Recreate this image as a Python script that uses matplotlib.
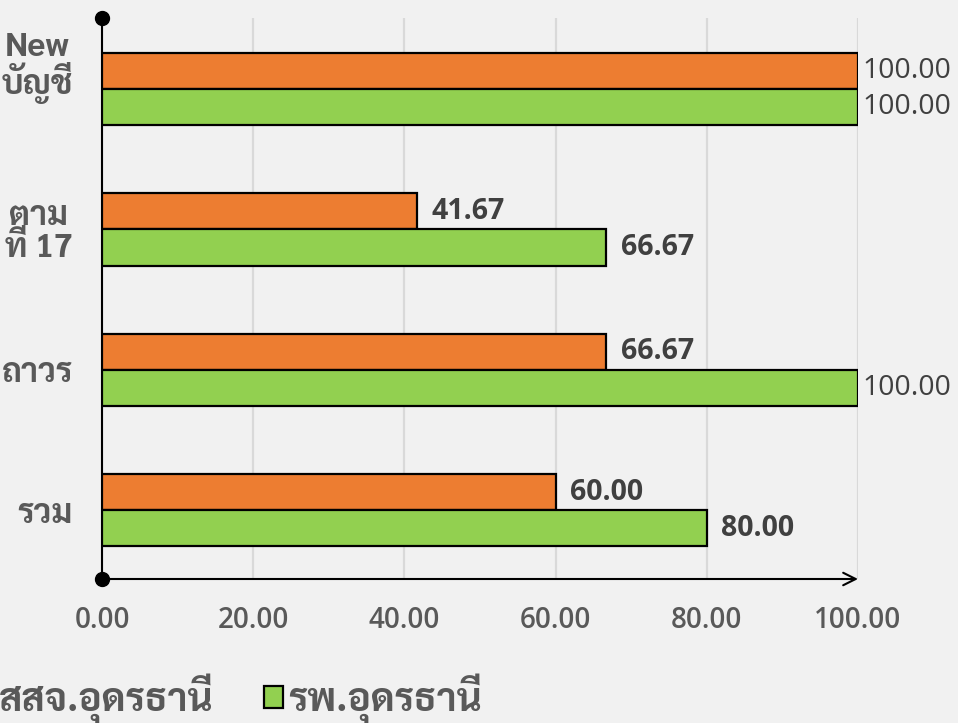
import numpy as np
import matplotlib
matplotlib.use("Agg")
import matplotlib.pyplot as plt

# ตัวเลขใช้ Open Sans, ข้อความไทยใช้ Sarabun
plt.rcParams['font.family'] = ['Open Sans', 'Sarabun', 'DejaVu Sans']
thai_font = ['Sarabun', 'DejaVu Sans']

# ข้อมูล
categories = ["New\nบัญชี", "ตาม\nที่ 17", "ถาวร", "รวม"]
label_shift = [-0.185, 0.0, 0.0, 0.0]
series_names = ["สสจ.อุดรธานี", "รพ.อุดรธานี"]
sso_values = [100.00, 41.67, 66.67, 60.00]
hosp_values = [100.00, 66.67, 100.00, 80.00]
xticks = [0, 20, 40, 60, 80, 100]

orange = '#ED7D31'
green = '#92D050'
text_gray = '#595959'

fig = plt.figure(figsize=(9.58, 7.23), dpi=100, facecolor='#f1f1f1')
ax = fig.add_axes([102 / 958, 1 - 579 / 723, 756 / 958, 561 / 723])
ax.set_facecolor('none')

y = np.arange(len(categories))
h = 0.257
b1 = ax.barh(y - h / 2, sso_values, height=h, color=orange, edgecolor='black',
             linewidth=1.6, label=series_names[0], zorder=3)
b2 = ax.barh(y + h / 2, hosp_values, height=h, color=green, edgecolor='black',
             linewidth=1.6, label=series_names[1], zorder=3)

# ป้ายค่า
for bars, vals in [(b1, sso_values), (b2, hosp_values)]:
    for rect, v in zip(bars, vals):
        full = v >= 100
        ax.annotate(f"{v:.2f}", (v, rect.get_y() + rect.get_height() / 2),
                    xytext=(3 if full else 10.5, 0), textcoords='offset points',
                    ha='left', va='center', fontsize=20.5,
                    fontweight='normal' if full else 'bold',
                    color='#404040', annotation_clip=False)

ax.set_xlim(0, 100)
ax.set_ylim(3.49, -0.506)
ax.set_xticks(xticks, labels=[f"{t:.2f}" for t in xticks])
ax.set_yticks(y + np.array(label_shift), labels=categories)
ax.tick_params(axis='x', length=0, pad=19.5, labelsize=20, labelcolor=text_gray)
ax.tick_params(axis='y', length=0, pad=21, labelcolor=text_gray)
for lab in ax.get_xticklabels():
    lab.set_fontweight('semibold')
for lab in ax.get_yticklabels():
    lab.set_family(thai_font)
    lab.set_fontsize(24)
    lab.set_fontweight('bold')
    lab.set_multialignment('center')
    lab.set_linespacing(0.95)

ax.grid(axis='x', color='#d9d9d9', linewidth=1.6, zorder=0)
ax.grid(axis='y', visible=False)
for s in ['top', 'right', 'bottom']:
    ax.spines[s].set_visible(False)
ax.spines['left'].set_linewidth(1.5)
ax.spines['left'].set_color('black')

# แกน x แบบลูกศร และจุดปลายแกน
ax.annotate('', xy=(1.0, 0), xytext=(0, 0), xycoords='axes fraction',
            arrowprops=dict(arrowstyle='->,head_length=0.9,head_width=0.45',
                            color='black', lw=1.5, shrinkA=0, shrinkB=0))
ax.plot([0, 0], [0, 1], 'o', color='black', markersize=10,
        transform=ax.transAxes, clip_on=False, zorder=5)

leg = fig.legend(handles=[b1, b2], loc='center right',
                 bbox_to_anchor=(482 / 958, 1 - 699 / 723), ncol=2,
                 frameon=False, prop={'family': thai_font, 'size': 28, 'weight': 'bold'},
                 handlelength=0.5, handleheight=0.5,
                 handletextpad=0.13, columnspacing=1.3, borderpad=0, borderaxespad=0)
for t in leg.get_texts():
    t.set_color(text_gray)

fig.savefig("out.png", dpi=100, facecolor=fig.get_facecolor())
